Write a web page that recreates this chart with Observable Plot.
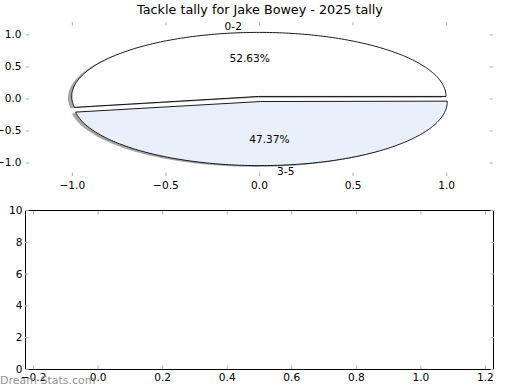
<!DOCTYPE html>
<html><head><meta charset="utf-8">
<script src="https://cdn.jsdelivr.net/npm/d3@7"></script>
<script src="https://cdn.jsdelivr.net/npm/@observablehq/plot@0.6"></script>
<style>
body{margin:0;background:#fff;}
#root{position:relative;width:520px;height:390px;overflow:hidden;font-family:"DejaVu Sans",sans-serif;background:#fff;}
#top{position:absolute;left:0;top:0;}
#bottom{position:absolute;left:0;top:200px;}
#title{position:absolute;left:0;top:2px;width:520px;text-align:center;font-size:12.75px;line-height:15px;color:#000;}
#wm{position:absolute;left:0;top:374px;font-size:11px;line-height:13px;color:#8a8a8a;opacity:0.9;white-space:pre;}
</style></head>
<body><div id="root"><div id="top"></div><div id="bottom"></div><div id="title"></div><div id="wm"></div></div>
<script>
const titleText = "Tackle tally for Jake Bowey - 2025 tally";
const watermark = "Dream Stats.com";
const sliceLabels = ["0-2", "3-5"];
const sliceValues = [10, 9];
const sliceColors = ["#ffffff", "#e9f0fc"];
const sliceExplode = [0.04, 0.04];
const pieXTicks = [-1, -0.5, 0, 0.5, 1];
const pieYTicks = [-1, -0.5, 0, 0.5, 1];
const lowXTicks = [-0.2, 0, 0.2, 0.4, 0.6, 0.8, 1.0, 1.2];
const lowYTicks = [0, 2, 4, 6, 8, 10];

document.getElementById("title").textContent = titleText;
document.getElementById("wm").textContent = watermark;

const total = d3.sum(sliceValues);
let acc = 0;
const wedges = sliceValues.map((v, i) => {
  const t1 = acc / total * 360; acc += v; const t2 = acc / total * 360;
  const mid = (t1 + t2) / 2 * Math.PI / 180;
  const cx = sliceExplode[i] * Math.cos(mid), cy = sliceExplode[i] * Math.sin(mid);
  const pts = [{x: cx, y: cy}];
  const n = Math.ceil(t2 - t1);
  for (let k = 0; k <= n; k++) {
    const a = (t1 + (t2 - t1) * k / n) * Math.PI / 180;
    pts.push({x: cx + Math.cos(a), y: cy + Math.sin(a)});
  }
  const lx = cx + 1.1 * Math.cos(mid), ly = cy + 1.1 * Math.sin(mid);
  return {
    pts, shadow: pts.map(p => ({x: p.x - 0.02, y: p.y - 0.02})),
    color: sliceColors[i], label: sliceLabels[i],
    lx, ly, px: cx + 0.6 * Math.cos(mid), py: cy + 0.6 * Math.sin(mid),
    pct: (v / total * 100).toFixed(2) + "%"
  };
});

const fmt1 = d3.format(".1f");
const tickGray = "#b0b0b0";
const style = {fontFamily: "DejaVu Sans, sans-serif", fontSize: "10.6px", background: "none", color: "#000", overflow: "visible"};

const topMarks = [];
wedges.forEach(w => topMarks.push(Plot.line(w.shadow, {x: "x", y: "y", curve: "linear-closed", fill: "#4d4d4d", fillOpacity: 0.5, stroke: "none"})));
wedges.forEach(w => topMarks.push(Plot.line(w.pts, {x: "x", y: "y", curve: "linear-closed", fill: w.color, stroke: "#000", strokeWidth: 0.9})));
topMarks.push(Plot.text(wedges.filter(w => w.lx < 0), {x: "lx", y: "ly", text: "label", textAnchor: "end", fill: "#000"}));
topMarks.push(Plot.text(wedges.filter(w => w.lx >= 0), {x: "lx", y: "ly", text: "label", textAnchor: "start", fill: "#000"}));
topMarks.push(Plot.text(wedges, {x: "px", y: "py", text: "pct", fill: "#000"}));
topMarks.push(
  Plot.axisX(pieXTicks, {anchor: "bottom", tickSize: 0, tickPadding: 5, tickFormat: fmt1}),
  Plot.axisX(pieXTicks, {anchor: "bottom", tickSize: -3.5, text: null, stroke: tickGray}),
  Plot.axisX(pieXTicks, {anchor: "top", tickSize: -3.5, text: null, stroke: tickGray}),
  Plot.axisY(pieYTicks, {anchor: "left", tickSize: 0, tickPadding: 5, tickFormat: fmt1}),
  Plot.axisY(pieYTicks, {anchor: "left", tickSize: -3.5, text: null, stroke: tickGray}),
  Plot.axisY(pieYTicks, {anchor: "right", tickSize: -3.5, text: null, stroke: tickGray})
);

const topPlot = Plot.plot({
  width: 520, height: 200,
  marginTop: 21, marginBottom: 24, marginLeft: 26, marginRight: 28,
  x: {domain: [-1.245, 1.245]},
  y: {domain: [-1.21, 1.21]},
  style,
  marks: topMarks
});
document.getElementById("top").appendChild(topPlot);

const lowPlot = Plot.plot({
  width: 520, height: 190,
  marginTop: 10, marginBottom: 21, marginLeft: 25, marginRight: 27,
  x: {domain: [-0.225, 1.225]},
  y: {domain: [0, 10]},
  style,
  marks: [
    Plot.frame({stroke: "#000", strokeWidth: 1}),
    Plot.axisX(lowXTicks, {anchor: "bottom", tickSize: 0, tickPadding: 4, tickFormat: fmt1}),
    Plot.axisX(lowXTicks, {anchor: "bottom", tickSize: -3.5, text: null, stroke: tickGray}),
    Plot.axisX(lowXTicks, {anchor: "top", tickSize: -3.5, text: null, stroke: tickGray}),
    Plot.axisY(lowYTicks, {anchor: "left", tickSize: 0, tickPadding: 3, tickFormat: d3.format("d")}),
    Plot.axisY(lowYTicks, {anchor: "left", tickSize: -3.5, text: null, stroke: tickGray}),
    Plot.axisY(lowYTicks, {anchor: "right", tickSize: -3.5, text: null, stroke: tickGray})
  ]
});
document.getElementById("bottom").appendChild(lowPlot);
</script></body></html>
